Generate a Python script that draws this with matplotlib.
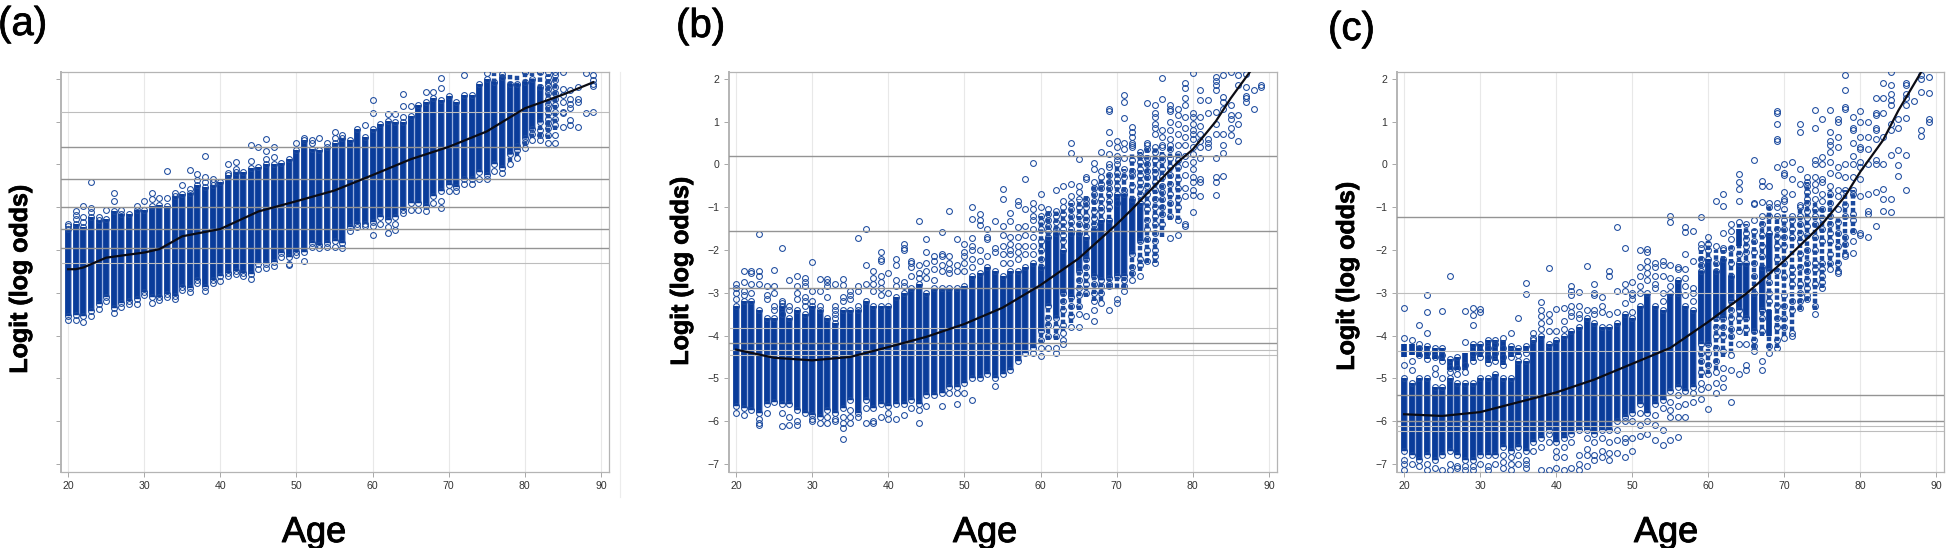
import matplotlib
matplotlib.use('Agg')
import matplotlib.pyplot as plt
import matplotlib.patheffects as pe
from matplotlib.lines import Line2D

plt.rcParams['font.family'] = ['Liberation Sans', 'DejaVu Sans']

W, H = 1952, 548
BLUE = '#0a3c9a'
PALE = '#8ea6da'
RING = '#1c4a9e'

# panel (a)
a_ages = list(range(20, 83))
a_hi = [-1.51, -1.39, -1.47, -1.23, -1.31, -1.27, -1.10, -1.15, -1.15, -1.06, -1.06, -0.98, -0.94, -0.98, -0.74, -0.70,
        -0.66, -0.49, -0.53, -0.49, -0.41, -0.25, -0.17, -0.17, -0.08, -0.07, 0.00, 0.00, 0.04, 0.12, 0.33, 0.57,
        0.37, 0.33, 0.41, 0.49, 0.61, 0.57, 0.82, 0.65, 0.82, 0.94, 1.02, 0.98, 0.98, 1.14, 1.39, 1.47,
        1.55, 1.51, 1.59, 1.47, 1.63, 1.63, 1.88, 2.00, 1.92, 2.04, 1.88, 1.88, 1.92, 2.00, 1.80]
a_lo = [-3.55, -3.51, -3.55, -3.43, -3.27, -3.11, -3.35, -3.23, -3.19, -3.15, -2.98, -3.11, -3.11, -3.02, -3.07, -2.86,
        -2.90, -2.70, -2.86, -2.70, -2.62, -2.53, -2.49, -2.53, -2.57, -2.33, -2.33, -2.29, -2.08, -2.17, -2.04, -2.04,
        -1.84, -1.88, -1.84, -1.80, -1.84, -1.47, -1.39, -1.39, -1.35, -1.23, -1.31, -1.23, -1.06, -0.90, -0.90, -0.98,
        -0.74, -0.61, -0.49, -0.53, -0.33, -0.33, -0.17, -0.25, 0.00, -0.08, 0.24, 0.33, 0.61, 0.82, 0.98]
a_rings = {
    20: [-1.39, -1.45, -3.64], 21: [-1.10, -1.19, -1.27, -3.63], 22: [-0.98, -1.23, -1.35, -3.68],
    23: [-0.42, -1.03, -1.11, -3.55], 24: [-1.23, -3.39], 25: [-1.06, -3.19], 26: [-0.66, -0.85, -3.47],
    27: [-1.06, -3.34], 28: [-3.27], 29: [-0.98, -3.26], 30: [-0.85, -3.05], 31: [-0.68, -0.82, -3.23],
    32: [-0.78, -3.17], 33: [-0.15, -0.78, -3.11], 34: [-0.66, -3.15], 35: [-0.49, -2.94], 36: [-0.13, -0.58, -2.98],
    37: [-0.22, -0.37, -2.78], 38: [0.20, -0.29, -0.41, -2.97], 39: [-0.33, -0.41, -2.78], 40: [-2.72],
    41: [0.01, -0.21, -2.61], 42: [0.05, -0.10, -2.57], 43: [-2.61], 44: [0.46, 0.07, -2.67], 45: [0.41, -2.45],
    46: [0.59, 0.32, 0.12, -2.41], 47: [0.40, 0.17, -2.37], 48: [-2.16], 49: [-2.33, -2.36], 50: [0.49, -2.12],
    51: [0.61, -2.26], 52: [0.57, 0.49, -1.92], 53: [0.61, -1.96], 54: [0.51, -1.92], 55: [0.76, 0.61, -1.92],
    56: [0.69, -1.95], 57: [-1.55], 58: [-1.47], 59: [0.92, -1.43], 60: [1.51, 1.20, -1.43, -1.66], 61: [-1.39],
    62: [1.18, -1.47, -1.60], 63: [1.18, -1.39, -1.53], 64: [1.64, 1.37, 1.10, -1.14], 65: [1.37, -1.06],
    66: [-1.06], 67: [1.70, -1.10], 68: [1.70, -0.90], 69: [2.03, 1.78, -0.86, -1.02], 70: [-0.61], 71: [-0.61],
    72: [2.10, -0.45], 73: [-0.45], 74: [-0.33], 75: [2.14, -0.33], 76: [-0.16], 77: [2.12, -0.20], 78: [0.00],
    79: [0.42, 0.16], 80: [2.16, 0.53, 0.38], 81: [0.70, 0.57], 82: [2.16, 0.80, 0.69, 0.57],
    83: [2.16, 2.05, 1.93, 1.85, 1.77, 1.66, 1.54, 1.42, 1.31, 1.19, 1.07, 0.96, 0.84, 0.68, 0.51],
    84: [2.16, 2.09, 1.97, 1.81, 1.66, 1.54, 1.39, 1.23, 1.07, 0.92, 0.68, 0.51],
    85: [2.16, 1.77, 1.62, 1.46, 1.23, 1.19, 0.88], 86: [1.74, 1.54, 1.42, 1.31, 1.03, 0.92],
    87: [1.81, 1.54, 1.46, 0.88], 88: [2.13, 1.19], 89: [2.09, 1.97, 1.89, 1.84, 1.23]}
a_mid_ages = [76, 77, 78, 79, 80, 81, 82, 83, 84]
a_mid_hi = [2.16, 2.16, 2.14, 2.10, 2.16, 2.16, 2.14, 2.10, 2.05]
a_mid_lo = [1.9, 2.0, 0.05, 0.20, 0.42, 0.62, 0.65, 0.60, 0.80]
a_curve_x = [20, 21, 22, 25, 30, 32, 35, 40, 45, 50, 55, 60, 65, 70, 75, 80, 85, 89]
a_curve_y = [-2.45, -2.45, -2.41, -2.18, -2.06, -1.98, -1.68, -1.51, -1.10, -0.86, -0.61, -0.25, 0.12, 0.41, 0.77,
             1.31, 1.63, 1.92]
a_lines_dark = [0.41, -0.33, -0.99, -1.52, -1.95]
a_lines_light = [1.23, -2.31]

# panel (b)
b_ages = list(range(20, 74))
b_hi = [-3.3, -3.2, -3.2, -3.4, -3.6, -3.6, -3.3, -3.6, -3.4, -3.5, -3.3, -3.4, -3.6, -3.7, -3.4, -3.4, -3.4, -3.2,
        -3.3, -3.3, -3.3, -3.1, -3.0, -2.9, -2.8, -3.0, -2.9, -2.9, -2.9, -2.9, -2.85, -2.6, -2.55, -2.4, -2.5, -2.6,
        -2.5, -2.5, -2.4, -2.3, -2.4, -1.7, -1.6, -2.0, -1.6, -1.6, -1.7, -1.5, -1.3, -1.3, -0.7, -0.7, -0.8, -0.9]
b_lo = [-5.65, -5.7, -5.75, -5.8, -5.6, -5.55, -5.6, -5.6, -5.75, -5.8, -5.85, -5.9, -5.75, -5.8, -5.7, -5.5, -5.8,
        -5.5, -5.7, -5.6, -5.65, -5.6, -5.6, -5.5, -5.6, -5.4, -5.4, -5.35, -5.2, -5.2, -5.1, -5.0, -5.0, -4.9, -5.0,
        -4.9, -4.8, -4.6, -4.4, -4.3, -3.9, -3.3, -3.6, -3.0, -3.1, -2.5, -2.2, -2.6, -2.7, -2.65, -2.6, -2.6, -2.1,
        -1.8]
b_rings = {
    20: [-2.8, -2.9, -3.0, -3.15, -5.8], 21: [-2.5, -2.75, -2.95, -3.05, -5.85], 22: [-2.5, -2.55, -2.8, -3.0],
    23: [-1.63, -2.5, -2.6, -2.8, -5.95, -6.1, -6.05], 24: [-2.85, -3.05, -3.15, -5.8],
    25: [-2.47, -2.85, -3.0, -3.3, -3.4], 26: [-1.95, -3.2, -3.25, -3.5, -5.8, -6.12],
    27: [-2.7, -3.3, -3.4, -5.9, -6.1], 28: [-2.6, -2.85, -3.0, -3.15, -6.0, -6.08],
    29: [-2.65, -2.75, -2.85, -3.1, -3.2, -3.3], 30: [-2.28, -2.95, -3.2, -5.95, -6.0], 31: [-2.67, -2.95, -3.3, -6.05],
    32: [-2.68, -2.75, -2.85, -3.1, -5.9, -6.05], 33: [-2.8, -3.3, -3.4, -3.5, -3.6, -5.95, -6.0],
    34: [-2.67, -2.82, -3.1, -3.2, -5.9, -6.05, -6.17, -6.42], 35: [-2.95, -3.05, -3.15, -5.75, -5.9, -6.05],
    36: [-1.72, -2.85, -2.95, -3.3, -5.9], 37: [-1.52, -2.35, -2.8, -5.7, -6.05], 38: [-2.5, -2.65, -2.8, -2.95, -6.0, -6.05],
    39: [-2.05, -2.2, -2.25, -2.6, -2.75, -2.9, -3.05, -5.9], 40: [-2.55, -3.0, -5.8, -5.95],
    41: [-2.2, -2.35, -2.7, -2.85, -5.95], 42: [-1.85, -1.95, -2.0, -2.75, -2.85, -5.85], 43: [-2.25, -2.3, -2.4, -2.6, -5.7],
    44: [-1.32, -2.35, -2.55, -2.65, -5.75, -6.05], 45: [-1.75, -2.05, -2.3, -2.5, -2.65, -5.65], 46: [-2.15, -2.25, -2.45, -2.7],
    47: [-1.57, -2.1, -2.15, -2.35, -2.5, -5.65], 48: [-1.08, -2.15, -2.3, -2.45, -2.55, -5.35],
    49: [-1.75, -2.35, -2.5, -5.35, -5.6], 50: [-1.85, -2.05, -2.15, -2.3, -2.5, -5.35],
    51: [-1.0, -1.28, -1.72, -1.9, -2.0, -2.2, -2.4, -5.5], 52: [-1.15, -1.3, -1.42, -2.0, -2.25],
    53: [-1.5, -1.7, -1.75, -2.15], 54: [-1.33, -1.95, -2.05, -5.18], 55: [-0.57, -0.82, -1.45, -1.65, -1.9, -2.1, -2.3],
    56: [-1.13, -1.32, -1.7, -1.85, -2.0, -2.1, -2.3], 57: [-0.85, -0.95, -1.47, -1.7, -1.9, -2.05, -2.2],
    58: [-0.35, -1.05, -1.45, -1.65, -1.9, -2.1], 59: [0.04, -0.9, -1.05, -1.2, -1.3, -1.5, -1.7, -1.9, -2.1, -4.4],
    60: [-0.7, -1.0, -1.2, -1.35, -1.5, -1.8, -2.0, -2.2, -4.1, -4.3, -4.48], 61: [-1.05, -1.15, -1.3, -1.45, -1.55, -3.6, -3.75, -4.0, -4.3],
    62: [-0.6, -1.1, -1.2, -1.35, -1.5, -3.8, -4.0, -4.3, -4.4],
    63: [-0.5, -0.85, -1.0, -1.15, -1.35, -1.5, -1.65, -1.8, -3.2, -3.4, -3.75, -3.95, -4.1, -4.2],
    64: [0.5, 0.27, -0.45, -0.75, -0.9, -1.05, -1.2, -1.35, -1.5, -3.3, -3.55, -3.8],
    65: [0.12, -0.5, -0.65, -0.8, -1.0, -1.2, -1.4, -2.7, -2.9, -3.05, -3.3, -3.5, -3.8],
    66: [-0.3, -0.35, -0.8, -0.9, -1.0, -1.2, -1.3, -1.45, -2.4, -2.6, -2.8, -3.0, -3.55],
    67: [0.03, -0.1, -0.4, -0.55, -0.7, -0.85, -1.1, -1.25, -1.4, -2.8, -3.0, -3.2, -3.4, -3.65],
    68: [0.3, -0.15, -0.3, -0.45, -0.55, -0.8, -1.0, -1.1, -2.85, -3.0, -3.25],
    69: [1.3, 1.25, 0.75, 0.5, 0.25, 0.0, -0.05, -0.25, -0.4, -0.55, -0.7, -0.85, -1.0, -2.8, -2.85, -3.4],
    70: [0.55, 0.4, 0.2, 0.1, 0.0, -0.2, -0.35, -0.5, -0.9, -3.15, -3.25],
    71: [1.62, 1.45, 1.08, 0.5, 0.35, 0.15, -0.1, -0.3, -0.6, -2.85, -2.95, -2.7],
    72: [0.87, 0.75, 0.65, 0.5, 0.45, 0.4, 0.1, -0.15, -0.25, -0.5, -2.4, -2.55, -2.7],
    73: [0.3, 0.2, 0.05, -0.1, -0.25, -0.4, -0.55, -0.7, -2.2, -2.35, -2.6],
    74: [1.43, 0.5, 0.45, 0.35, 0.15, 0.0, -0.15, -0.3, -0.5, -0.7, -0.9, -1.05, -1.3, -1.5, -1.75, -2.0, -2.25],
    75: [1.4, 1.2, 1.1, 0.95, 0.85, 0.7, 0.4, 0.3, 0.1, -0.1, -0.2, -0.4, -0.6, -0.8, -1.0, -1.2, -1.4, -1.6, -1.8, -2.0, -2.15, -2.3],
    76: [2.02, 1.53, 0.8, 0.65, 0.45, 0.4, 0.2, 0.1, -0.1, -0.3, -0.5, -0.65, -0.8, -1.0, -1.15, -1.4],
    77: [1.38, 1.3, 1.25, 1.0, 0.8, 0.6, 0.45, 0.35, 0.15, -0.05, -0.25, -0.45, -0.7, -0.9, -1.2, -1.72],
    78: [1.3, 1.15, 0.95, 0.7, 0.45, 0.25, 0.1, -0.05, -0.35, -0.55, -0.8, -1.0, -1.3, -1.66],
    79: [1.9, 1.78, 1.55, 1.4, 1.1, 0.85, 0.65, 0.45, 0.2, 0.0, -0.25, -0.55, -0.75, -1.4, -1.45],
    80: [2.13, 1.2, 1.1, 0.95, 0.8, 0.7, 0.6, 0.4, 0.25, 0.05, -0.1, -0.3, -0.4, -0.6, -0.72, -1.12],
    81: [1.75, 1.5, 1.1, 0.9, 0.7, 0.55, 0.4, 0.15, -0.35, -0.4, -0.75], 82: [1.5, 1.2, 0.6, 0.5, 0.4],
    83: [2.05, 1.95, 1.85, 1.75, 1.22, 0.95, 0.7, 0.15, -0.3, -0.4, -0.72], 84: [2.1, 1.58, 1.45, 1.3, 0.7, 0.45, 0.27, -0.28],
    85: [2.15, 1.4, 1.15, 1.05, 0.85, 0.68], 86: [2.1, 1.85, 1.15, 0.95, 0.55], 87: [2.12, 1.82, 1.6, 1.55, 1.45],
    88: [1.75, 1.3], 89: [1.85, 1.8]}
b_mid_ages = list(range(60, 79))
b_mid_hi = [-1.2, -1.1, -1.1, -1.0, -0.9, -0.8, -0.7, -0.5, -0.3, -0.2, 0.0, -0.1, 0.3, 0.3, 0.4, 0.4, 0.3, 0.4, 0.3]
b_mid_lo = [-4.2, -4.1, -4.1, -3.9, -3.7, -3.4, -3.1, -3.2, -3.2, -2.9, -2.9, -2.9, -2.6, -2.5, -2.3, -2.3, -1.7, -1.3,
            -1.3]
b_curve_x = [20, 25, 30, 35, 40, 45, 50, 55, 60, 65, 70, 72, 75, 78, 80, 83, 85, 87.5]
b_curve_y = [-4.33, -4.52, -4.58, -4.5, -4.27, -4.03, -3.73, -3.35, -2.82, -2.2, -1.4, -1.05, -0.5, 0.05, 0.35, 1.0,
             1.55, 2.16]
b_lines_dark = [0.19, -1.55, -2.88, -4.17]
b_lines_light = [-3.82, -4.33, -4.46]

# panel (c)
c_ages = list(range(20, 69))
c_hi = [-5.0, -5.1, -5.0, -5.0, -5.2, -5.2, -5.0, -5.1, -5.1, -5.1, -5.0, -5.0, -4.9, -5.0, -5.0, -4.6, -4.6, -4.1,
        -4.0, -4.2, -4.1, -4.0, -3.9, -3.8, -3.6, -3.7, -3.8, -3.8, -3.7, -3.5, -3.6, -3.3, -3.0, -3.3, -3.4, -3.0,
        -2.7, -3.3, -3.4, -2.5, -2.2, -2.5, -2.2, -2.6, -2.3, -2.3, -3.0, -2.4, -1.6]
c_lo = [-6.7, -6.8, -6.9, -6.8, -6.9, -6.8, -6.7, -6.8, -6.9, -6.9, -6.8, -6.8, -6.8, -6.6, -6.7, -6.6, -6.7, -6.5,
        -6.4, -6.2, -6.5, -6.4, -6.3, -6.2, -6.2, -6.3, -6.2, -6.2, -6.0, -5.9, -5.8, -5.6, -5.8, -5.6, -5.5, -5.3,
        -5.2, -5.3, -5.2, -4.2, -4.2, -3.6, -3.6, -3.2, -3.4, -3.6, -3.9, -3.4, -2.5]
c_upper_ages = list(range(20, 37)) + [64, 68]
c_upper_hi = [-4.2, -4.2, -4.25, -4.25, -4.3, -4.3, -4.55, -4.5, -4.4, -4.2, -4.2, -4.1, -4.1, -4.1, -4.25, -4.3, -4.25,
              -1.5, -3.4]
c_upper_lo = [-4.5, -4.45, -4.5, -4.55, -4.55, -4.6, -4.8, -4.8, -4.8, -4.6, -4.5, -4.65, -4.6, -4.7, -4.5, -4.45, -4.4,
              -1.9, -4.0]
c_rings = {
    20: [-3.35, -4.05, -4.7, -6.9, -7.0, -7.15], 21: [-4.1, -4.6, -4.8, -7.0], 22: [-3.75, -4.2, -4.3, -4.45, -7.05],
    23: [-3.05, -3.45, -3.95, -4.25, -4.4, -4.55, -7.0, -7.15], 24: [-4.3, -4.5, -4.75, -4.9, -7.1],
    25: [-3.42, -4.3, -4.45, -4.6, -5.0, -7.15], 26: [-2.62, -4.55, -4.75, -4.85, -7.0, -7.15],
    27: [-4.5, -4.75, -4.9, -7.05, -7.1], 28: [-3.42, -4.15, -4.7, -4.85, -7.05, -7.15],
    29: [-3.35, -3.52, -3.75, -4.2, -4.4, -4.6, -7.05, -7.15], 30: [-3.38, -3.45, -4.2, -4.35, -4.5, -7.0],
    31: [-4.1, -4.3, -4.5, -4.65, -7.05, -7.15], 32: [-4.1, -4.2, -4.4, -4.6, -7.0],
    33: [-4.05, -4.3, -4.5, -4.7, -6.8, -6.95, -7.1], 34: [-3.95, -4.25, -4.35, -4.5, -6.85, -7.0, -7.15],
    35: [-3.6, -4.3, -4.45, -6.8, -7.0], 36: [-2.78, -3.02, -4.25, -4.4, -6.9, -7.0, -7.1], 37: [-3.95, -4.05, -6.7],
    38: [-3.22, -3.4, -3.55, -3.7, -3.85, -6.6, -7.15], 39: [-2.42, -3.5, -3.65, -3.9, -6.3, -6.5, -7.15],
    40: [-3.38, -3.9, -6.7, -6.85, -7.1], 41: [-3.35, -3.65, -3.85, -6.6, -6.85, -7.15],
    42: [-2.85, -2.95, -3.05, -3.3, -3.45, -3.55, -6.5, -7.1], 43: [-2.98, -3.3, -3.5, -3.6, -6.8, -7.0, -7.15],
    44: [-2.38, -3.4, -6.4, -6.65, -6.8, -7.05], 45: [-2.8, -3.0, -3.05, -3.4, -3.5, -6.5, -6.8, -6.9],
    46: [-3.1, -3.3, -3.45, -6.4, -6.7, -6.85], 47: [-2.5, -2.6, -3.5, -6.5, -6.75, -6.92],
    48: [-1.47, -2.95, -3.45, -6.2, -6.45, -6.75], 49: [-1.95, -2.8, -2.95, -3.25, -6.0, -6.4, -6.5, -6.85],
    50: [-2.75, -3.0, -3.05, -3.15, -3.45, -6.0, -6.4, -6.7], 51: [-2.0, -2.4, -2.6, -2.85, -3.0, -5.8, -6.1, -6.35],
    52: [-1.98, -2.05, -2.25, -2.4, -2.55, -2.7, -6.0, -6.3], 53: [-2.3, -2.4, -2.6, -2.8, -2.9, -5.85, -6.1, -6.45],
    54: [-2.25, -2.35, -2.6, -3.0, -3.2, -5.7, -6.2, -6.55], 55: [-1.2, -1.35, -2.35, -2.65, -2.85, -5.55, -5.75, -5.9, -6.45],
    56: [-2.4, -2.45, -3.0, -5.4, -5.65, -5.9, -6.37], 57: [-1.47, -1.58, -2.1, -2.45, -2.65, -2.85, -3.05, -5.6, -5.9],
    58: [-1.55, -2.25, -2.9, -3.0, -3.2, -5.35, -5.55], 59: [-1.22, -1.85, -1.95, -2.2, -2.35, -4.4, -4.6, -4.85, -5.1, -5.25, -5.48],
    60: [-1.7, -1.85, -2.0, -4.4, -4.7, -4.9, -5.2, -5.72], 61: [-0.85, -1.9, -2.3, -3.8, -4.0, -4.3, -4.6, -4.85, -5.1, -5.35],
    62: [-0.7, -0.98, -1.6, -1.95, -2.0, -3.8, -4.0, -4.35, -4.75, -5.0, -5.2],
    63: [-1.4, -1.55, -1.75, -1.95, -2.3, -3.4, -3.6, -3.85, -4.0, -4.45, -4.8, -5.55],
    64: [-0.22, -0.4, -0.58, -0.85, -1.35, -2.1, -3.6, -3.9, -4.2, -4.9],
    65: [-1.4, -1.6, -1.75, -1.9, -2.05, -3.85, -4.2, -4.7, -4.8],
    66: [0.1, -0.9, -0.93, -1.3, -1.55, -1.8, -2.05, -2.3, -2.6, -4.1, -4.25, -4.35],
    67: [-0.38, -0.5, -0.88, -1.2, -1.4, -1.65, -1.9, -2.15, -3.6, -3.9, -4.6, -4.8],
    68: [-0.5, -0.9, -1.0, -1.2, -2.75, -3.0, -3.2, -4.25, -4.4],
    69: [1.25, 1.2, 0.95, 0.6, 0.55, -0.05, -0.9, -1.0, -1.2, -1.5, -1.7, -1.9, -2.2, -2.5, -3.3, -3.6, -3.8, -4.1, -4.3],
    70: [0.0, -0.2, -0.25, -0.65, -0.8, -0.85, -1.05, -1.3, -1.5, -1.7, -1.9, -2.3, -2.6, -3.05, -3.3, -3.6, -3.8, -4.05],
    71: [0.05, -0.35, -0.7, -1.2, -1.3, -1.5, -1.7, -2.45, -2.6, -2.8, -3.2, -3.4, -3.95, -4.0],
    72: [0.95, 0.75, -0.1, -0.45, -0.95, -1.0, -1.2, -1.4, -1.6, -1.8, -2.1, -2.4, -2.8, -3.0, -3.2, -3.35],
    73: [-0.3, -0.4, -0.5, -0.65, -0.8, -0.9, -1.1, -1.25, -1.45, -1.65, -2.0, -2.3, -2.5, -2.7, -2.9, -3.05, -3.15],
    74: [1.27, 0.85, 0.1, 0.02, -0.3, -0.45, -0.6, -0.8, -1.05, -1.2, -1.4, -1.7, -2.0, -2.3, -2.45, -2.8, -3.3, -3.5],
    75: [1.05, 0.18, 0.0, -0.35, -0.4, -0.7, -0.85, -1.05, -1.25, -1.5, -1.8, -2.3, -2.45, -2.6, -2.75, -2.9],
    76: [1.27, 0.75, 0.55, 0.45, 0.28, 0.05, -0.2, -0.5, -0.7, -0.9, -1.2, -1.4, -1.6, -1.8, -2.1, -2.3, -2.45],
    77: [1.05, 1.0, 0.65, 0.4, -0.05, -0.25, -0.6, -0.75, -1.05, -1.35, -1.6, -1.9, -2.3, -2.5, -2.55],
    78: [2.1, 1.75, 1.35, 1.3, 0.0, -0.3, -0.6, -0.95, -1.2, -1.7, -1.85, -2.1, -2.15],
    79: [1.1, 0.85, 0.8, 0.5, 0.2, 0.0, -0.3, -0.6, -0.7, -1.15, -1.3, -1.55, -1.8, -2.08],
    80: [1.25, 1.0, 0.65, 0.4, 0.35, 0.05, -0.05, -0.35, -0.75, -1.6, -1.65], 81: [1.0, 0.65, 0.35, 0.0, -0.7, -1.1, -1.15, -1.7],
    82: [1.55, 1.2, 1.15, 0.85, 0.8, 0.6, 0.1, 0.0, -0.65, -1.45], 83: [1.9, 1.55, 1.2, 0.65, 0.0, -0.58, -0.82, -1.1],
    84: [2.15, 1.85, 1.65, 1.5, 1.4, 0.95, 0.8, 0.22, -0.8, -1.12], 85: [1.05, 0.85, 0.33, -0.02, -0.28],
    86: [1.9, 1.85, 1.65, 1.55, 1.4, 1.08, 0.22, -0.6], 87: [1.48], 88: [2.1, 2.0, 1.7, 0.8, 0.67], 89: [2.05, 1.68, 1.05, 1.0]}
c_mid_ages = list(range(59, 80))
c_mid_hi = [-2.0, -1.8, -2.0, -2.0, -1.9, -1.4, -1.4, -1.5, -1.3, -1.0, -1.2, -1.1, -1.2, -1.0, -0.4, -0.9, -1.0, -0.6,
            -1.2, -0.6, -0.6]
c_mid_lo = [-5.0, -4.9, -4.8, -4.5, -4.4, -3.9, -4.0, -4.3, -4.0, -4.3, -4.3, -4.0, -3.9, -3.4, -3.2, -3.4, -2.9, -2.4,
            -2.5, -2.1, -1.6]
c_curve_x = [20, 25, 30, 35, 40, 45, 50, 55, 60, 65, 70, 75, 78, 80, 83, 85, 88]
c_curve_y = [-5.84, -5.88, -5.79, -5.56, -5.33, -5.03, -4.66, -4.29, -3.68, -3.02, -2.25, -1.39, -0.74, -0.17, 0.57,
             1.26, 2.16]
c_lines_dark = [-1.23, -5.38, -6.0]
c_lines_light = [-3.0, -4.37, -6.11, -6.23]

x_ticks = [20, 30, 40, 50, 60, 70, 80, 90]
y_ticks = [-7, -6, -5, -4, -3, -2, -1, 0, 1, 2]


def draw_panel(left, right, ages, lo, hi, rings, mid, curve_x, curve_y, dark, light, show_y, extra=None):
    ax = fig.add_axes([left / W, 1 - 472 / H, (right - left) / W, 400 / H])
    ax.set_xlim(19, 91)
    ax.set_ylim(-7.19, 2.16)
    for x in x_ticks:
        ax.axvline(x, color='#e8e8e8', lw=0.8, zorder=1)
    # stacked circles, where they are still told apart
    ax.vlines(mid[0], mid[1], mid[2], color=RING, lw=3.2, linestyles=(0, (1.0, 0.55)), zorder=2)
    # solid columns where the circles merge
    ax.vlines(ages, lo, hi, color=PALE, lw=4.9, zorder=2)
    ax.vlines(ages, lo, hi, color=BLUE, lw=4.1, zorder=3)
    ax.plot(ages, lo, 'o', ms=4.2, mfc='none', mec=RING, mew=0.75, zorder=4)
    ax.plot(ages, hi, 'o', ms=4.2, mfc='none', mec=RING, mew=0.75, zorder=4)
    if extra:
        ax.vlines(extra[0], extra[1], extra[2], color=BLUE, lw=4.1, zorder=3)
    xs = []
    ys = []
    for age, vals in rings.items():
        for v in vals:
            xs.append(age)
            ys.append(v)
    ax.plot(xs, ys, 'o', ms=4.2, mfc='none', mec=RING, mew=0.75, zorder=4)
    for v in light:
        ax.axhline(v, color='#bdbdbd', lw=0.8, zorder=5)
    for v in dark:
        ax.axhline(v, color='#949494', lw=1.0, zorder=5)
    ax.plot(curve_x, curve_y, color='#0c0c14', lw=1.6, zorder=6)
    for s in ax.spines.values():
        s.set_color('#b4b4b4')
        s.set_linewidth(0.9)
    ax.spines['left'].set_linewidth(1.4)
    ax.set_xticks(x_ticks)
    ax.set_yticks(y_ticks)
    ax.tick_params(length=3.6, width=0.6, color='#9a9a9a', labelcolor='#333333', labelsize=7.6, pad=3)
    if not show_y:
        ax.set_yticklabels([])
    return ax


def put_text(x, y, s, stroke, **kw):
    t = fig.text(x / W, 1 - y / H, s, color='black', **kw)
    t.set_path_effects([pe.withStroke(linewidth=stroke, foreground='black')])


fig = plt.figure(figsize=(W / 100, H / 100), dpi=100)

draw_panel(60.5, 608.5, a_ages, a_lo, a_hi, a_rings, (a_mid_ages, a_mid_lo, a_mid_hi), a_curve_x, a_curve_y,
           a_lines_dark, a_lines_light, False)
draw_panel(728.5, 1276.5, b_ages, b_lo, b_hi, b_rings, (b_mid_ages, b_mid_lo, b_mid_hi), b_curve_x, b_curve_y,
           b_lines_dark, b_lines_light, True)
draw_panel(1396.5, 1944, c_ages, c_lo, c_hi, c_rings, (c_mid_ages, c_mid_lo, c_mid_hi), c_curve_x, c_curve_y,
           c_lines_dark, c_lines_light, True, extra=(c_upper_ages, c_upper_lo, c_upper_hi))

# faint rule right of panel (a)
fig.add_artist(Line2D([620 / W, 620 / W], [1 - 72 / H, 1 - 497 / H], color='#ececec', lw=0.8))

for x, y, s in [(-2, 35, '(a)'), (676, 37, '(b)'), (1328, 40, '(c)')]:
    put_text(x, y, s, 0.5, fontsize=29, ha='left', va='baseline')
for x, s in [(314, 'Age'), (985, 'Age'), (1666, 'Age')]:
    put_text(x, 542, s, 0.7, fontsize=26, ha='center', va='baseline')
for x, y in [(20, 279), (681, 271), (1347, 276)]:
    put_text(x, y, 'Logit (log odds)', 0.5, fontsize=18, fontweight='bold', rotation=90, ha='center', va='center')

fig.savefig('out.png', dpi=100)
